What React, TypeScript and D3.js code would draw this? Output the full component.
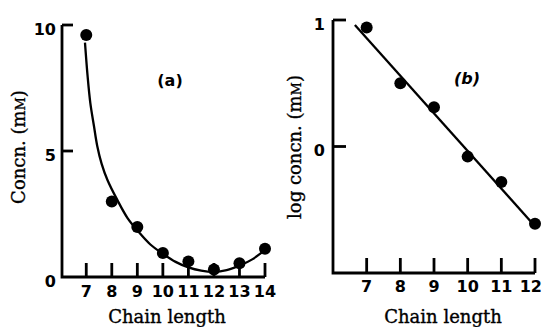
import * as d3 from "d3";

// panel (a): measured concentration vs chain length
const chainA = [7, 8, 9, 10, 11, 12, 13, 14];
const concA = [9.6, 3.0, 1.98, 0.95, 0.62, 0.3, 0.55, 1.12];
// fitted curve drawn through panel (a)
const curveX = [6.95, 7.05, 7.16, 7.3, 7.43, 7.6, 7.83, 8.22, 8.61, 9.0, 9.5, 10.0, 10.5, 11.0, 11.5, 12.0, 12.5, 13.0, 13.5, 14.0];
const curveY = [9.3, 8.0, 6.9, 6.0, 5.2, 4.5, 3.85, 3.05, 2.35, 1.85, 1.3, 0.92, 0.6, 0.38, 0.25, 0.2, 0.27, 0.45, 0.7, 1.08];
const yTicksA = [0, 5, 10];

// panel (b): log concentration vs chain length
const chainB = [7, 8, 9, 10, 11, 12];
const logB = [0.94, 0.5, 0.31, -0.08, -0.28, -0.61];
const fitX = [6.65, 12.0];
const fitY = [0.96, -0.63];
const yTicksB = [0, 1];

const W = 543;
const H = 327;
const numFont = "'DejaVu Sans', sans-serif";
const serif = "'DejaVu Serif', serif";

const App = () => {
  // scales, panel (a)
  const xA = d3.scaleLinear().domain([6.05, 14]).range([62, 265]);
  const yA = d3.scaleLinear().domain([0, 10]).range([277, 25]);
  // scales, panel (b)
  const xB = d3.scaleLinear().domain([6, 12]).range([333, 535]);
  const yB = d3.scaleLinear().domain([-1, 1]).range([273, 20]);

  const curve = d3
    .line<number>()
    .x((d, i) => xA(curveX[i]))
    .y((d) => yA(d))
    .curve(d3.curveCatmullRom.alpha(0.5));

  const fit = d3
    .line<number>()
    .x((d, i) => xB(fitX[i]))
    .y((d) => yB(d));

  const axis = { stroke: "#000", strokeWidth: 2.8, fill: "none" };
  const num = { fontFamily: numFont, fontWeight: "bold", fontSize: 16 };
  const lab = { fontFamily: serif, fontSize: 18, stroke: "#000", strokeWidth: 0.35 };

  return (
    <svg
      width={W}
      height={H}
      style={{ position: "absolute", left: 0, top: 0, background: "#fff" }}
    >
      {/* ---------- panel (a) ---------- */}
      <path
        d={`M${xA.range()[0]},${yA(10)}V${yA(0)}H${xA(14)}`}
        {...axis}
      />
      {yTicksA.filter((t) => t > 0).map((t) => (
        <line key={t} x1={xA.range()[0]} x2={xA.range()[0] + 11} y1={yA(t)} y2={yA(t)} {...axis} />
      ))}
      {yTicksA.map((t) => (
        <text key={t} x={xA.range()[0] - 6} y={yA(t) + 4} dy="0.35em" textAnchor="end" {...num}>
          {t}
        </text>
      ))}
      {chainA.map((t) => (
        <g key={t}>
          <line x1={xA(t)} x2={xA(t)} y1={yA(0)} y2={yA(0) - 14} {...axis} />
          <text x={xA(t)} y={297} textAnchor="middle" {...num}>
            {t}
          </text>
        </g>
      ))}
      <path d={curve(curveY) ?? ""} stroke="#000" strokeWidth={2.3} fill="none" />
      {chainA.map((c, i) => (
        <circle key={c} cx={xA(c)} cy={yA(concA[i])} r={6} fill="#000" />
      ))}
      <text x={170} y={86} textAnchor="middle" {...num}>
        (a)
      </text>
      <text x={167} y={323} textAnchor="middle" {...lab}>
        Chain length
      </text>
      <text transform="translate(25,147) rotate(-90)" textAnchor="middle" {...lab}>
        Concn. (m<tspan fontSize={13}>M</tspan>)
      </text>

      {/* ---------- panel (b) ---------- */}
      <path
        d={`M${xB.range()[0]},${yB(1)}V${yB(-1)}H${xB(12)}`}
        {...axis}
      />
      {yTicksB.map((t) => (
        <g key={t}>
          <line x1={xB.range()[0]} x2={xB.range()[0] + 13} y1={yB(t)} y2={yB(t)} {...axis} />
          <text x={xB.range()[0] - 8} y={yB(t) + 4} dy="0.35em" textAnchor="end" {...num}>
            {t}
          </text>
        </g>
      ))}
      {chainB.map((t, i) => {
        const last = i === chainB.length - 1;
        return (
          <g key={t}>
            <line x1={xB(t)} x2={xB(t)} y1={yB(-1)} y2={yB(-1) - 15} {...axis} />
            <text
              x={last ? W - 1 : xB(t)}
              y={292}
              textAnchor={last ? "end" : "middle"}
              {...num}
            >
              {t}
            </text>
          </g>
        );
      })}
      <path d={fit(fitY) ?? ""} stroke="#000" strokeWidth={2.3} fill="none" />
      {chainB.map((c, i) => (
        <circle key={c} cx={xB(c)} cy={yB(logB[i])} r={6} fill="#000" />
      ))}
      <text x={467} y={84} textAnchor="middle" fontStyle="italic" {...num}>
        (b)
      </text>
      <text x={443} y={323} textAnchor="middle" {...lab}>
        Chain length
      </text>
      <text transform="translate(301,147) rotate(-90)" textAnchor="middle" {...lab}>
        log concn. (m<tspan fontSize={13}>M</tspan>)
      </text>
    </svg>
  );
};

export default App;
